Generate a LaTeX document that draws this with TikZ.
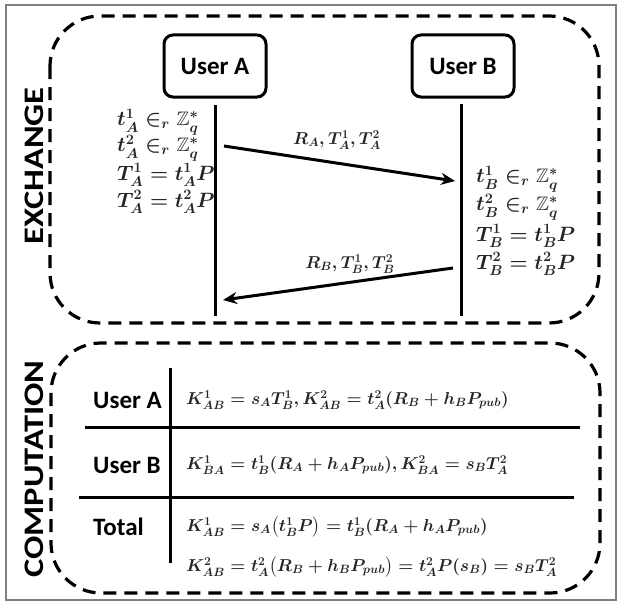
\documentclass[tikz,border=0pt]{standalone}
\usepackage{amsmath,amssymb}
\usepackage{graphicx}
\usepackage{fontspec}
\newfontfamily\lab{Carlito}
\usetikzlibrary{arrows.meta}
\begin{document}
\begin{tikzpicture}[x=1pt,y=-1pt,
  dbox/.style={line width=3.2pt, dash pattern=on 13pt off 8pt, rounded corners=50pt},
  user/.style={draw, line width=3pt, rounded corners=9pt, minimum width=102pt, minimum height=62pt, font=\lab\bfseries\fontsize{25}{30}\selectfont},
  sect/.style={rotate=90, font=\lab\bfseries\fontsize{34.5}{40}\selectfont, inner sep=0},
  mth/.style={font=\fontsize{19.5}{24}\selectfont\boldmath, inner sep=0, anchor=west, text=black!85},
  tmth/.style={mth, font=\fontsize{17}{20}\selectfont\boldmath},
  rowlab/.style={font=\lab\bfseries\fontsize{25}{30}\selectfont, inner sep=0, anchor=west},
  life/.style={line width=3pt},
  msg/.style={line width=3pt, -{Stealth[length=14pt,width=12pt]}},
  tline/.style={line width=3pt}]
\useasboundingbox (0,0) rectangle (621,602);
\draw[gray, line width=1.5pt] (6,5) rectangle (616,600);
\draw[dbox] (50,16) rectangle (599,323);
\draw[dbox] (51,343) rectangle (600,593);
\node[sect] (ex) at (34,166) {\scalebox{1}[0.82]{EXCHANGE}};
\node[sect] (comp) at (34,469) {\scalebox{1}[0.82]{COMPUTATION}};
\node[user] (ua) at (215,66) {User A};
\node[user] (ub) at (463,66) {User B};
\coordinate (la1) at (215,105); \coordinate (la2) at (215,316);
\coordinate (lb1) at (461,104); \coordinate (lb2) at (461,316);
\draw[life] (la1) -- (la2);
\draw[life] (lb1) -- (lb2);
% A formulas
\node[mth] (a1) at (117,122) {$t_A^1 \in_r \mathbb{Z}_q^{*}$};
\node[mth] (a2) at (117,148) {$t_A^2 \in_r \mathbb{Z}_q^{*}$};
\node[mth] (a3) at (117,175) {$T_A^1 = t_A^1 P$};
\node[mth] (a4) at (117,202) {$T_A^2 = t_A^2 P$};
% B formulas
\node[mth] (b1) at (476,179) {$t_B^1 \in_r \mathbb{Z}_q^{*}$};
\node[mth] (b2) at (476,207) {$t_B^2 \in_r \mathbb{Z}_q^{*}$};
\node[mth] (b3) at (476,236) {$T_B^1 = t_B^1 P$};
\node[mth] (b4) at (476,264) {$T_B^2 = t_B^2 P$};
% messages
\coordinate (m1s) at (224,146); \coordinate (m1e) at (455,181);
\coordinate (m2s) at (453,268); \coordinate (m2e) at (223,300);
\draw[msg] (m1s) -- (m1e);
\draw[msg] (m2s) -- (m2e);
\node[tmth, anchor=center] (l1) at (337,140) {$R_A, T_A^1, T_A^2$};
\node[tmth, anchor=center] (l2) at (350,264) {$R_B, T_B^1, T_B^2$};
% table
\coordinate (v1) at (170,368); \coordinate (v2) at (170,563);
\coordinate (h1a) at (85,427); \coordinate (h1b) at (580,427);
\coordinate (h2a) at (79,497); \coordinate (h2b) at (574,497);
\draw[tline] (v1) -- (v2);
\draw[tline] (h1a) -- (h1b);
\draw[tline] (h2a) -- (h2b);
\node[rowlab] (ra) at (93,400) {User A};
\node[rowlab] (rb) at (93,465) {User B};
\node[rowlab] (rt) at (93,527) {Total};
\node[tmth] (f1) at (186,400) {$K_{AB}^1 = s_A T_B^1, K_{AB}^2 = t_A^2(R_B + h_B P_{pub})$};
\node[tmth] (f2) at (186,465) {$K_{BA}^1 = t_B^1(R_A + h_A P_{pub}), K_{BA}^2 = s_B T_A^2$};
\node[tmth] (f3) at (186,527) {$K_{AB}^1 = s_A\bigl(t_B^1 P\bigr) = t_B^1(R_A + h_A P_{pub})$};
\node[tmth] (f4) at (186,567) {$K_{AB}^2 = t_A^2\bigl(R_B + h_B P_{pub}\bigr) = t_A^2 P(s_B) = s_B T_A^2$};
\end{tikzpicture}
\end{document}
